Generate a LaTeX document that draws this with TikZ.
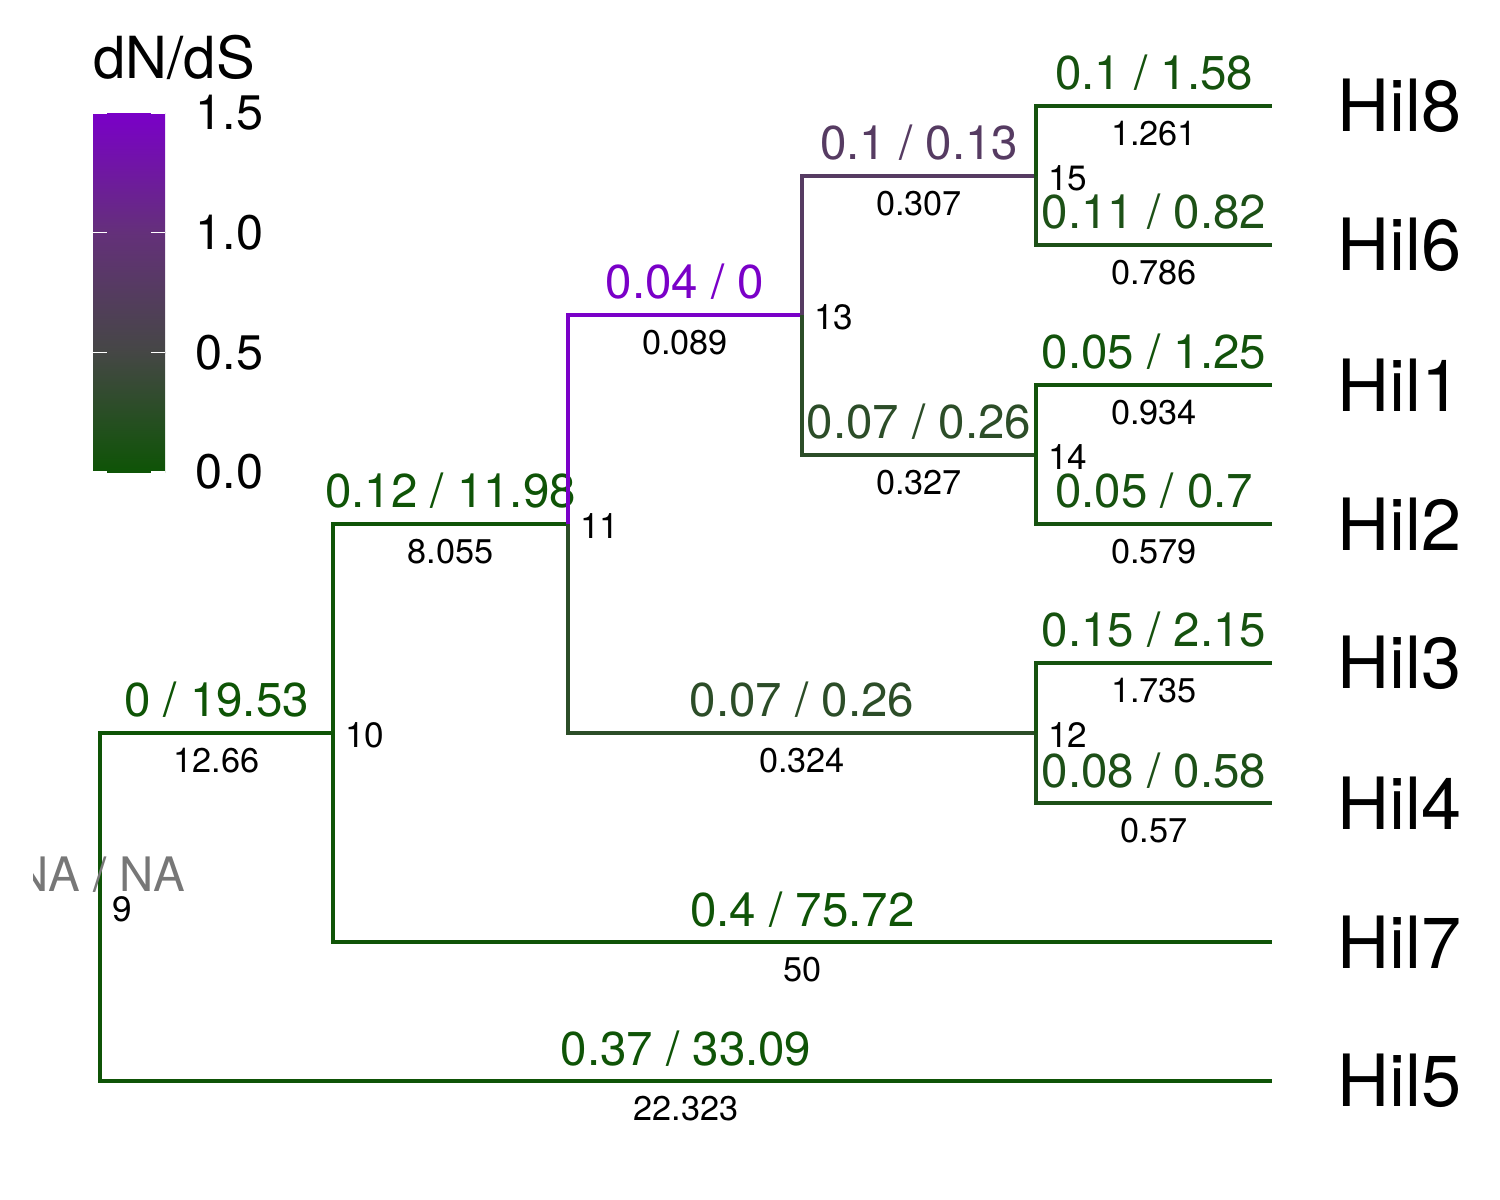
\documentclass[tikz,border=0pt]{standalone}
\usepackage{fontspec}
\setmainfont{TeX Gyre Heros}
\usetikzlibrary{positioning}
\definecolor{dnlo}{HTML}{0E5406}
\definecolor{dnmid}{HTML}{454745}
\definecolor{dnhi}{HTML}{64307A}
\definecolor{dntop}{HTML}{7A00C8}
\definecolor{nagrey}{HTML}{777777}

\begin{document}
\begin{tikzpicture}[x = 0.01cm, y = -0.01cm,
    br/.style = {line width = 0.9pt},
    dnds/.style = {anchor = base, inner sep = 0pt, yshift = 1.6mm, font = \fontsize{13.5}{16}\selectfont},
    blen/.style = {anchor = north, inner sep = 0pt, yshift = -1.4mm, text = black, font = \fontsize{9.75}{12}\selectfont},
    nlab/.style = {anchor = west, yshift = -0.2mm, font = \fontsize{10}{12}\selectfont},
    tiplab/.style = {anchor = west, inner sep = 0pt, font = \fontsize{20.5}{24}\selectfont},
    leglab/.style = {anchor = west, inner sep = 0pt, font = \fontsize{13.8}{16}\selectfont}]
    \useasboundingbox (0, 0) rectangle (1500, 1200);

    % internal nodes (x = depth, y = middle of the clade)
    \coordinate (n9) at (100, 907);
    \coordinate (n10) at (333, 733);
    \coordinate (n11) at (568, 524);
    \coordinate (n12) at (1036, 733);
    \coordinate (n13) at (802, 315);
    \coordinate (n14) at (1036, 455);
    \coordinate (n15) at (1036, 176);
    % tips
    \foreach \t/\y in {8/106, 6/245, 1/385, 2/524, 3/663, 4/803, 7/942, 5/1081}
        \coordinate (t\t) at (1272, \y);

    % branches, coloured by dN/dS
    \draw [br, color = dnlo] (n9) |- (n10) node [dnds, pos = .75] {0 / 19.53} node [blen, pos = .75] {12.66};
    \draw [br, color = dnmid!2!dnlo] (n9) |- (t5) node [dnds, pos = .75] {0.37 / 33.09} node [blen, pos = .75] {22.323};
    \draw [br, color = dnmid!2!dnlo] (n10) |- (n11) node [dnds, pos = .75] {0.12 / 11.98} node [blen, pos = .75] {8.055};
    \draw [br, color = dnmid!1!dnlo] (n10) |- (t7) node [dnds, pos = .75] {0.4 / 75.72} node [blen, pos = .75] {50};
    \draw [br, color = dntop] (n11) |- (n13) node [dnds, pos = .75] {0.04 / 0} node [blen, pos = .75] {0.089};
    \draw [br, color = dnmid!54!dnlo] (n11) |- (n12) node [dnds, pos = .75] {0.07 / 0.26} node [blen, pos = .75] {0.324};
    \draw [br, color = dnhi!54!dnmid] (n13) |- (n15) node [dnds, pos = .75] {0.1 / 0.13} node [blen, pos = .75] {0.307};
    \draw [br, color = dnmid!54!dnlo] (n13) |- (n14) node [dnds, pos = .75] {0.07 / 0.26} node [blen, pos = .75] {0.327};
    \draw [br, color = dnmid!13!dnlo] (n15) |- (t8) node [dnds, pos = .75] {0.1 / 1.58} node [blen, pos = .75] {1.261};
    \draw [br, color = dnmid!27!dnlo] (n15) |- (t6) node [dnds, pos = .75] {0.11 / 0.82} node [blen, pos = .75] {0.786};
    \draw [br, color = dnmid!8!dnlo] (n14) |- (t1) node [dnds, pos = .75] {0.05 / 1.25} node [blen, pos = .75] {0.934};
    \draw [br, color = dnmid!14!dnlo] (n14) |- (t2) node [dnds, pos = .75] {0.05 / 0.7} node [blen, pos = .75] {0.579};
    \draw [br, color = dnmid!14!dnlo] (n12) |- (t3) node [dnds, pos = .75] {0.15 / 2.15} node [blen, pos = .75] {1.735};
    \draw [br, color = dnmid!28!dnlo] (n12) |- (t4) node [dnds, pos = .75] {0.08 / 0.58} node [blen, pos = .75] {0.57};

    % root label, cut by the panel
    \begin{scope}
        \clip (33, 0) rectangle (1500, 1200);
        \node [dnds, text = nagrey] (na) at (n9) {NA / NA};
    \end{scope}

    \foreach \k in {9, ..., 15}
        \node [nlab] (k\k) at (n\k) {\k};
    \foreach \t in {1, ..., 8}
        \node [tiplab, right = 6.5mm of t\t] (l\t) {Hil\t};

    % legend
    \node [anchor = base west, inner sep = 0pt, font = \fontsize{16.5}{19}\selectfont] (ttl) at (93, 78) {dN/dS};
    \shade [bottom color = dnlo, top color = dnmid] (93, 472) rectangle (165, 352.5);
    \shade [bottom color = dnmid, top color = dnhi] (93, 353) rectangle (165, 232);
    \shade [bottom color = dnhi, top color = dntop] (93, 232.5) rectangle (165, 113);
    \foreach \v/\y/\i in {0.0/472/0, 0.5/352.7/1, 1.0/232.3/2, 1.5/113/3} {
        \draw [white, line width = 0.4pt] (93, \y) -- (107, \y) (151, \y) -- (165, \y);
        \node [leglab] (v\i) at (195, \y) {\v};
    }
\end{tikzpicture}
\end{document}
